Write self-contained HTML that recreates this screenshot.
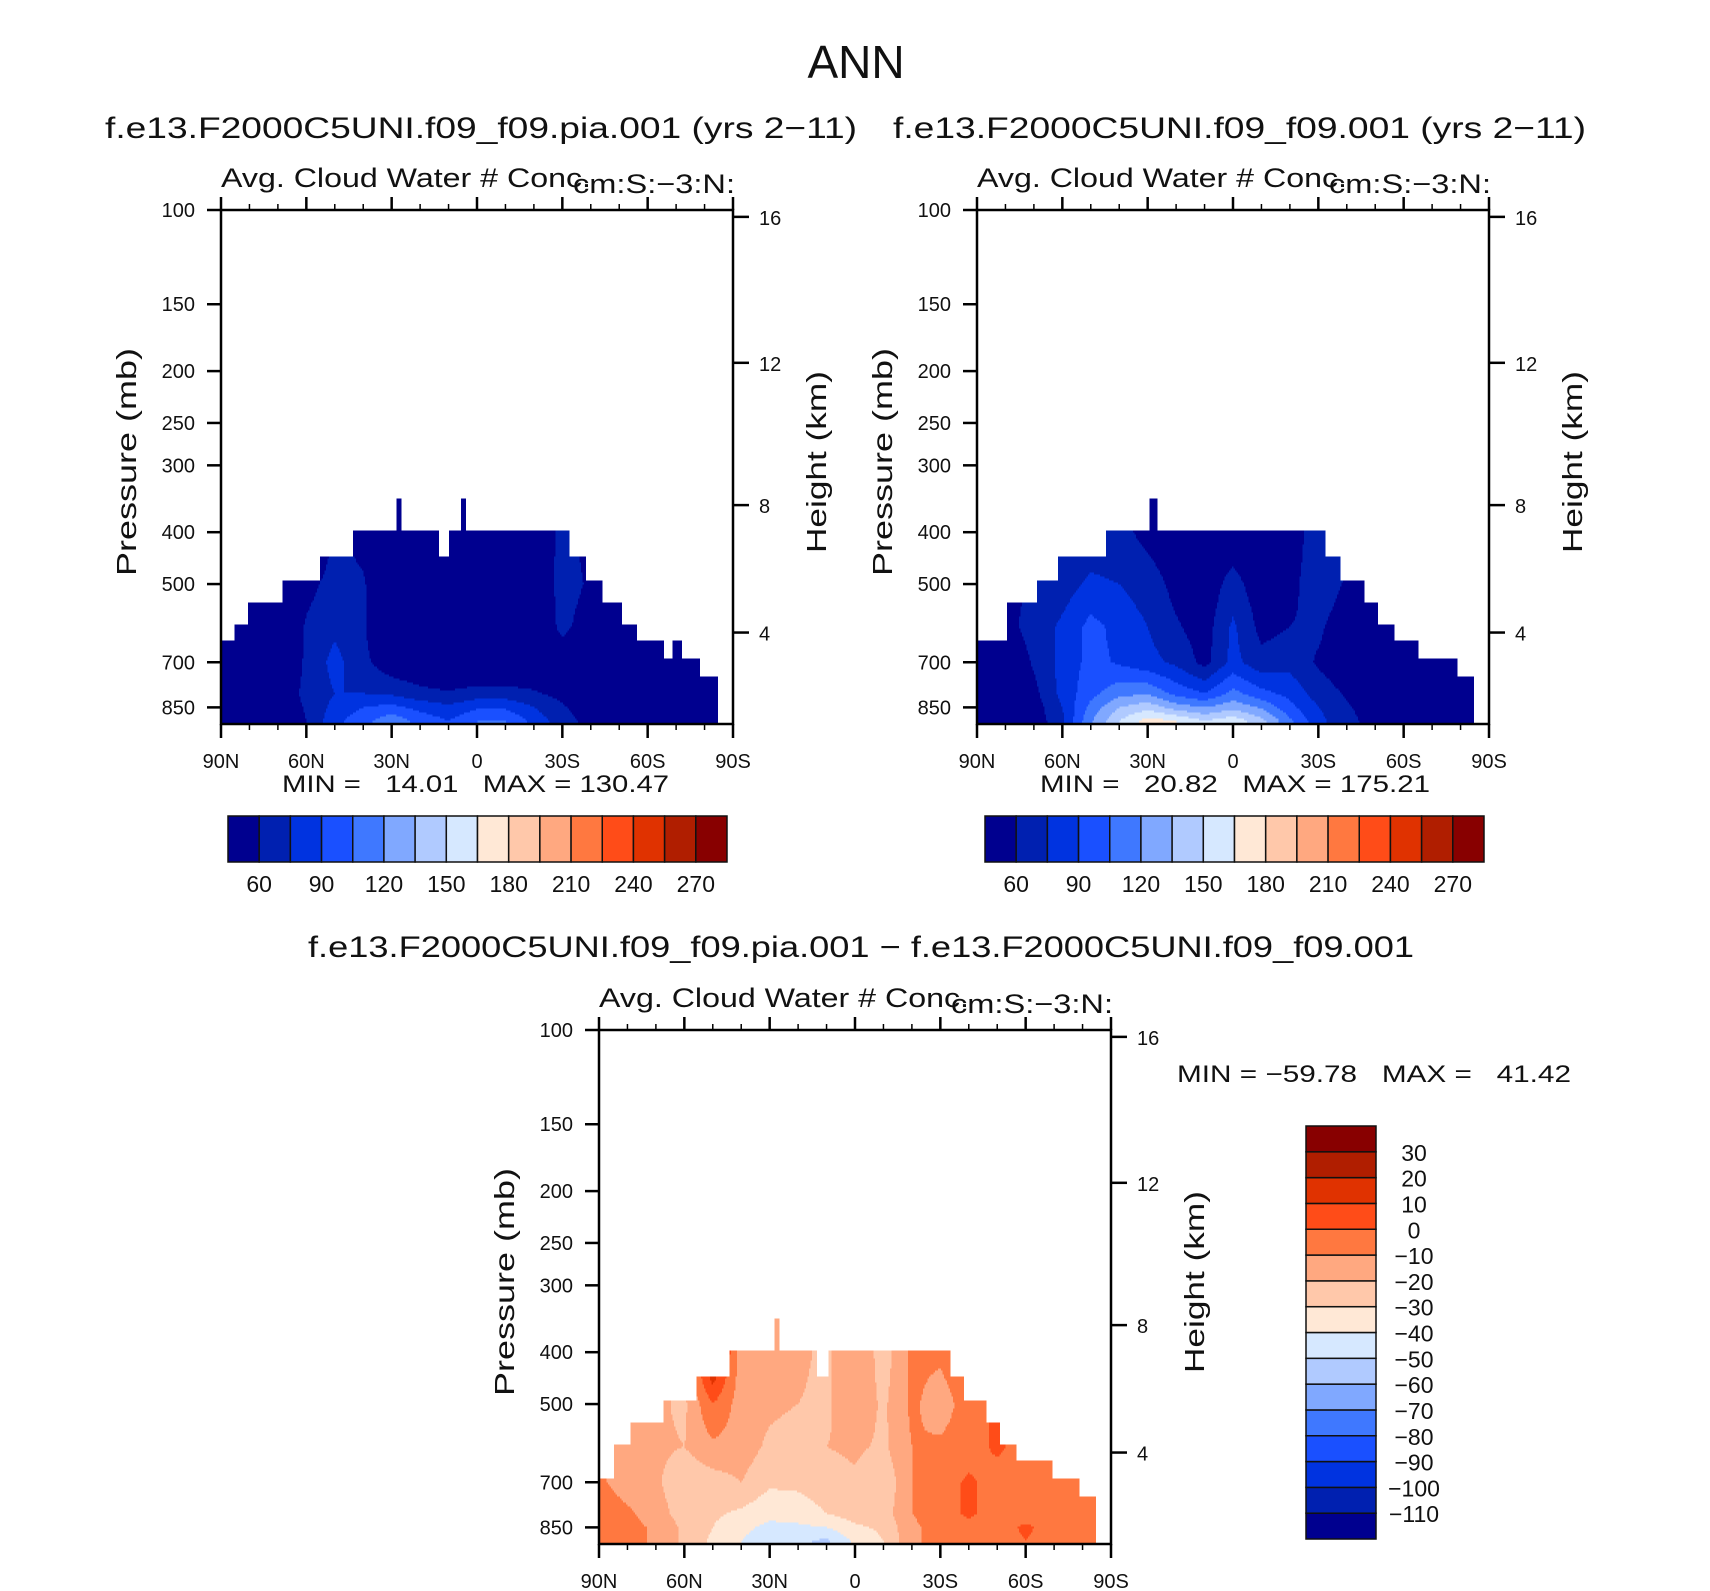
<!DOCTYPE html>
<html><head><meta charset="utf-8"><title>ANN Cloud Water</title>
<style>
html,body{margin:0;padding:0;background:#fff;}
svg{display:block;font-family:"Liberation Sans",sans-serif;}
.pre{white-space:pre;}
</style></head>
<body>
<svg id="chart" xmlns="http://www.w3.org/2000/svg" width="1710" height="1591" viewBox="0 0 1710 1591">
<rect x="0" y="0" width="1710" height="1591" fill="#fff"/>
<text x="856" y="78" font-size="46" text-anchor="middle" fill="#111">ANN</text>
<text x="105" y="138" font-size="30" textLength="752" lengthAdjust="spacingAndGlyphs" fill="#111">f.e13.F2000C5UNI.f09_f09.pia.001 (yrs 2−11)</text>
<text x="893" y="138" font-size="30" textLength="693" lengthAdjust="spacingAndGlyphs" fill="#111">f.e13.F2000C5UNI.f09_f09.001 (yrs 2−11)</text>
<text x="308" y="957" font-size="30" textLength="1106" lengthAdjust="spacingAndGlyphs" fill="#111">f.e13.F2000C5UNI.f09_f09.pia.001 − f.e13.F2000C5UNI.f09_f09.001</text>
<g id="panels"></g>
</svg>
<script>
// ---------- shared data ----------
const latLabels = ['90N','60N','30N','0','30S','60S','90S'];
const gridLats = [90,80,70,60,50,40,30,20,10,0,-10,-20,-30,-40,-50,-60,-70,-80,-90];
const gridPress = [400,500,600,700,800,850,900];
const pressTicks = [100,150,200,250,300,400,500,700,850];
const heightLabels = [4,8,12,16];
const heightTickPress = [616,356,193,103];
const palette = ['#00008f','#0020b0','#0033e0','#1a50ff','#3f78ff','#80a8ff','#b0caff','#d6e8ff','#ffe8d6','#ffc8aa','#ffa880','#ff7840','#ff4c18','#e03200','#b01e00','#880000'];
const absLevels = [60,75,90,105,120,135,150,165,180,195,210,225,240,255,270];
const absLevelLabels = ['60','90','120','150','180','210','240','270'];
const diffLevels = [-110,-100,-90,-80,-70,-60,-50,-40,-30,-20,-10,0,10,20,30];
const diffLevelLabels = ['−110','−100','−90','−80','−70','−60','−50','−40','−30','−20','−10','0','10','20','30'];

// left panel (pia) values: rows = gridPress, cols = gridLats
const leftVals = [
 [30,30,30,40,62,55,40,35,35,35,35,45,65,55,40,35,30,30,30],
 [30,30,35,55,66,62,40,35,35,35,35,45,66,58,40,35,30,30,30],
 [30,30,40,62,72,62,40,35,35,35,35,45,64,52,40,35,30,30,30],
 [35,35,40,63,80,64,50,45,40,42,42,45,50,45,40,35,30,30,30],
 [40,40,45,65,75,75,72,65,62,66,66,62,55,48,42,38,32,30,30],
 [40,40,45,62,80,90,95,85,78,88,88,75,62,50,45,40,32,30,30],
 [40,40,45,60,85,100,115,100,90,105,105,85,66,55,50,42,35,30,30]
];
const leftEdges = [0,4.6,9.6,21.8,34.8,46.3,61.7,63.2,76.6,80,84.3,86.2,122.6,128,134,141,146,155.5,158.6,162,168,174.4];
const leftTops  = [638,593,540,494,443,396,346,396,443,396,346,396,443,494,540,593,638,689,638,689,742];

// right panel (control) values
const rightVals = [
 [45,50,55,62,66,65,55,50,50,50,45,50,70,62,45,40,35,30,30],
 [40,55,62,68,78,75,68,55,50,66,50,55,70,58,45,40,35,30,30],
 [40,55,66,78,95,85,75,62,52,78,55,60,63,50,45,40,35,30,30],
 [35,45,62,80,95,88,80,72,55,80,65,70,58,50,45,40,35,30,30],
 [35,45,55,80,100,115,118,100,90,110,95,85,68,58,50,45,38,32,30],
 [35,40,52,75,110,135,145,128,120,130,118,95,75,62,52,45,38,32,30],
 [35,40,50,72,118,150,172,165,150,160,140,108,80,64,55,45,38,32,30]
];
const rightEdges = [0,10.3,21,28.3,45.5,60.5,63.2,122.6,127.6,136,141,146.5,155.3,168.7,174.4];
const rightTops  = [638,540,494,443,396,346,396,443,494,540,593,638,689,742];

// difference panel values
const diffVals = [
 [-22,-20,-18,-18,25,-15,-18,-18,-22,-10,-25,-8,-8,-2,-5,-5,-5,-5,-5],
 [-15,-15,-18,-22,0,-15,-18,-20,-22,-12,-22,-8,-15,-5,2,-5,-5,-5,-5],
 [-12,-15,-18,-20,-12,-15,-22,-25,-20,-18,-22,-10,-8,-5,2,-5,-5,-5,-5],
 [-8,-15,-18,-28,-25,-20,-28,-28,-25,-22,-28,-10,-5,2,-5,-5,-5,-5,-5],
 [-3,-8,-15,-25,-28,-32,-38,-35,-30,-25,-25,-10,-5,2,-5,-5,-2,-5,-5],
 [-5,-6,-12,-22,-30,-38,-42,-42,-40,-32,-28,-12,-6,-3,-5,2,-5,-5,-5],
 [-8,-6,-12,-22,-32,-40,-45,-48,-52,-38,-30,-12,-6,-5,-5,0,-5,-5,-5]
];
const diffEdges = [0,5.4,11.1,22.6,34.5,46,61.7,63.2,76.6,80.5,123.4,128.4,136,141,146.8,159,168.6,174.3];
const diffTops  = [689,593,540,494,443,396,346,396,443,396,443,494,540,593,638,689,742];

// ---------- helpers ----------
const NS = 'http://www.w3.org/2000/svg';
const root = document.getElementById('panels');
function mk(tag, attrs, parent){
  const e = document.createElementNS(NS, tag);
  for (const k in attrs) e.setAttribute(k, attrs[k]);
  (parent||root).appendChild(e);
  return e;
}
const PB = 913;
function makeY(p0){ return p => p0.yTop + Math.log10(p/100)/Math.log10(PB/100)*(p0.yBot-p0.yTop); }
function pFromY(p0, y){ return 100*Math.pow(PB/100, (y-p0.yTop)/(p0.yBot-p0.yTop)); }
function topAt(edges, tops, d){
  for (let i=0;i<tops.length;i++){ if (d>=edges[i] && d<edges[i+1]) return tops[i]; }
  return null;
}
function interp(vals, d, p){
  let c = d/10; c = Math.max(0, Math.min(18, c));
  const c0 = Math.min(17, Math.floor(c)), fc = c - c0;
  let r0, fr;
  if (p <= gridPress[0]) { r0 = 0; fr = 0; }
  else if (p >= gridPress[gridPress.length-1]) { r0 = gridPress.length-2; fr = 1; }
  else {
    r0 = 0; while (gridPress[r0+1] < p) r0++;
    fr = (p - gridPress[r0])/(gridPress[r0+1]-gridPress[r0]);
  }
  const a = vals[r0][c0]*(1-fc)+vals[r0][c0+1]*fc;
  const b = vals[r0+1][c0]*(1-fc)+vals[r0+1][c0+1]*fc;
  return a*(1-fr)+b*fr;
}
function binOf(levels, v){ let i=0; while (i<levels.length && v>=levels[i]) i++; return i; }

function drawPanel(cfg){
  const g = mk('g', {});
  
  
  const yOf = makeY(cfg);
  const xOf = d => cfg.x0 + d/180*(cfg.x1-cfg.x0);
  const fill = mk('g', {'shape-rendering':'crispEdges'}, g);
  
  
  const stepY = 2, stepX = 1.5;
  const yStart = yOf(340);
  for (let y = yStart; y < cfg.yBot; y += stepY){
    const yc = Math.min(cfg.yBot-0.1, y + stepY/2);
    const p = pFromY(cfg, yc);
    let runStart = null, runColor = null;
    const flush = (xe) => {
      if (runStart !== null && runColor !== null){
        const r = mk('rect', {x:runStart.toFixed(1), y:y.toFixed(1), width:(xe-runStart+0.4).toFixed(1), height:(Math.min(stepY, cfg.yBot-y)+0.3).toFixed(1), fill:runColor}, fill);
        
        
      }
    };
    for (let x = cfg.x0; x < cfg.x1; x += stepX){
      const d = (x + stepX/2 - cfg.x0)/(cfg.x1-cfg.x0)*180;
      const top = topAt(cfg.edges, cfg.tops, d);
      let col = null;
      if (top !== null && p >= top){ col = palette[binOf(cfg.levels, interp(cfg.vals, d, p))]; }
      if (col !== runColor){ flush(x); runStart = x; runColor = col; }
    }
    flush(cfg.x1);
  }
  const frame = mk('rect', {x:cfg.x0, y:cfg.yTop, width:cfg.x1-cfg.x0, height:cfg.yBot-cfg.yTop, fill:'none', stroke:'#000', 'stroke-width':2.5}, g);
  
  
  for (let d=0; d<=180; d+=10){
    const x = xOf(d), major = d%30===0;
    const tb = mk('line', {x1:x, x2:x, y1:cfg.yBot, y2:cfg.yBot+(major?14:6), stroke:'#000', 'stroke-width':major?2.5:1.5}, g);
    
    
    const tt = mk('line', {x1:x, x2:x, y1:cfg.yTop, y2:cfg.yTop-(major?13:6), stroke:'#000', 'stroke-width':major?2.5:1.5}, g);
    
    
    if (major){
      const lab = mk('text', {x:x, y:cfg.yBot+44, 'font-size':20, 'text-anchor':'middle', fill:'#111'}, g);
      lab.textContent = latLabels[d/30];
      
      
    }
  }
  pressTicks.forEach(p => {
    const y = yOf(p);
    const t = mk('line', {x1:cfg.x0-14, x2:cfg.x0, y1:y, y2:y, stroke:'#000', 'stroke-width':2.5}, g);
    
    
    const lab = mk('text', {x:cfg.x0-26, y:y+7, 'font-size':20, 'text-anchor':'end', fill:'#111'}, g);
    lab.textContent = String(p);
    
    
  });
  heightTickPress.forEach((p,i) => {
    const y = yOf(p);
    const t = mk('line', {x1:cfg.x1, x2:cfg.x1+16, y1:y, y2:y, stroke:'#000', 'stroke-width':2.5}, g);
    
    
    const lab = mk('text', {x:cfg.x1+26, y:y+8, 'font-size':20, fill:'#111'}, g);
    lab.textContent = String(heightLabels[i]);
    
    
  });
  const cy = (cfg.yTop + cfg.yBot)/2;
  const pt = mk('text', {x:0, y:0, 'font-size':28, 'text-anchor':'middle', fill:'#111', transform:`translate(${cfg.x0-85},${cy-5}) rotate(-90)`, textLength:228, lengthAdjust:'spacingAndGlyphs'}, g);
  pt.textContent = 'Pressure (mb)';
  
  
  const ht = mk('text', {x:0, y:0, 'font-size':28, 'text-anchor':'middle', fill:'#111', transform:`translate(${cfg.x1+93},${cy-5}) rotate(-90)`, textLength:182, lengthAdjust:'spacingAndGlyphs'}, g);
  ht.textContent = 'Height (km)';
  
  
  const vt = mk('text', {x:cfg.x0, y:cfg.yTop-23, 'font-size':27, fill:'#111', textLength:370, lengthAdjust:'spacingAndGlyphs'}, g);
  vt.textContent = 'Avg. Cloud Water # Conc.';
  
  
  const ut = mk('text', {x:cfg.x1+2, y:cfg.yTop-17, 'font-size':27, 'text-anchor':'end', fill:'#111', textLength:162, lengthAdjust:'spacingAndGlyphs'}, g);
  ut.textContent = 'cm:S:−3:N:';
  
  
}

function hColorbar(x0, x1, y0, y1, name){
  const g = mk('g', {});
  
  
  const w = (x1-x0)/palette.length;
  palette.forEach((c,i) => {
    const r = mk('rect', {x:x0+i*w, y:y0, width:w, height:y1-y0, fill:c, stroke:'#111', 'stroke-width':1.5}, g);
    
    
  });
  absLevelLabels.forEach((t,k) => {
    const lab = mk('text', {x:x0+(2*k+1)*w, y:y1+30, 'font-size':23, 'text-anchor':'middle', fill:'#111'}, g);
    lab.textContent = t;
    
    
  });
}
function vColorbar(x0, x1, y0, y1, name){
  const g = mk('g', {});
  
  
  const h = (y1-y0)/palette.length;
  palette.forEach((c,i) => {
    const r = mk('rect', {x:x0, y:y1-(i+1)*h, width:x1-x0, height:h, fill:c, stroke:'#111', 'stroke-width':1.5}, g);
    
    
  });
  diffLevelLabels.forEach((t,k) => {
    const lab = mk('text', {x:1414, y:y1-(k+1)*h+9, 'font-size':23, 'text-anchor':'middle', fill:'#111'}, g);
    lab.textContent = t;
    
    
  });
}
function statText(x, y, len, str, name){
  const t = mk('text', {x:x, y:y, 'font-size':24, fill:'#111', 'class':'pre', textLength:len, lengthAdjust:'spacingAndGlyphs'});
  t.textContent = str;
  
  
}

drawPanel({name:'left-panel', x0:221, x1:733, yTop:210, yBot:724, vals:leftVals, edges:leftEdges, tops:leftTops, levels:absLevels});
drawPanel({name:'right-panel', x0:977, x1:1489, yTop:210, yBot:724, vals:rightVals, edges:rightEdges, tops:rightTops, levels:absLevels});
drawPanel({name:'diff-panel', x0:599, x1:1111, yTop:1030, yBot:1544, vals:diffVals, edges:diffEdges, tops:diffTops, levels:diffLevels});
hColorbar(228, 727, 816, 862, 'left-colorbar');
hColorbar(985, 1484, 816, 862, 'right-colorbar');
vColorbar(1306, 1376, 1126, 1539, 'diff-colorbar');
statText(282, 792, 387, 'MIN =   14.01   MAX = 130.47', 'left-min-max');
statText(1040, 792, 390, 'MIN =   20.82   MAX = 175.21', 'right-min-max');
statText(1177, 1082, 394, 'MIN = −59.78   MAX =   41.42', 'diff-min-max');
</script>
</body></html>
